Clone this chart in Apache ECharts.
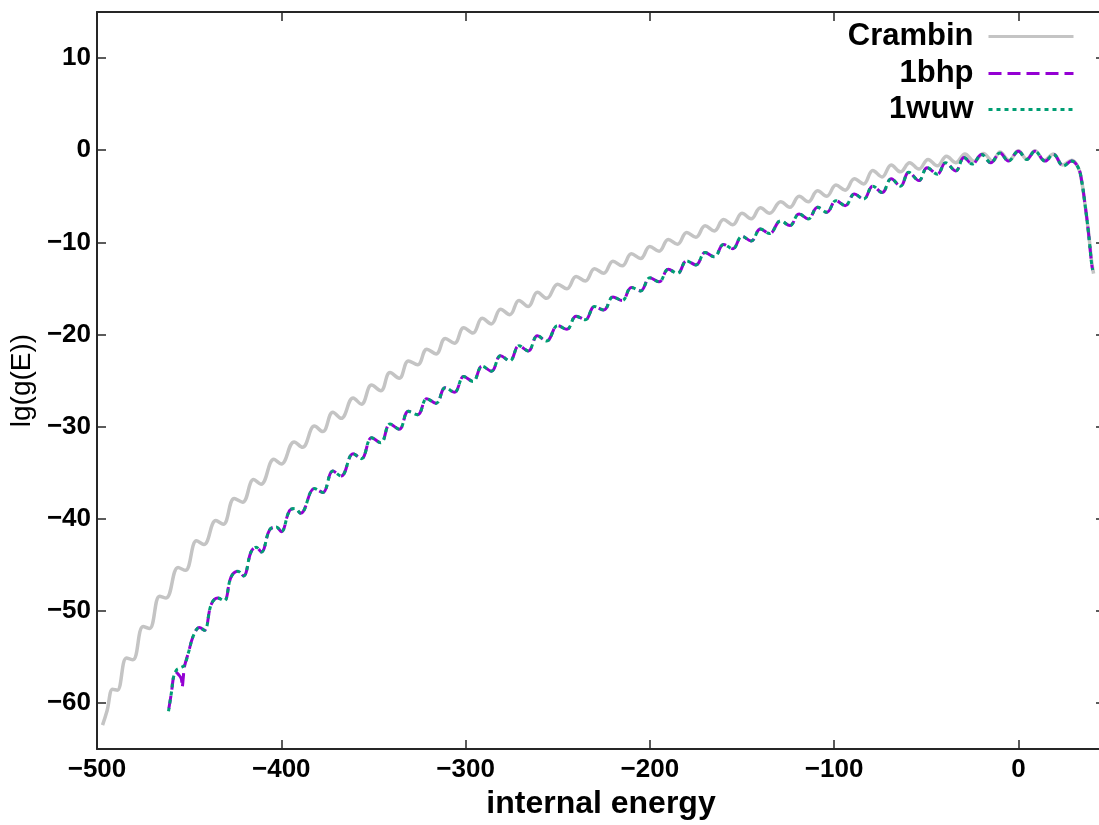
<!DOCTYPE html>
<html><head><meta charset="utf-8">
<script src="https://cdn.jsdelivr.net/npm/echarts@6/dist/echarts.min.js"></script>
<style>html,body{margin:0;padding:0;background:#fff;overflow:hidden}#c{width:1105px;height:825px}</style>
</head><body><div id="c"></div>
<script>
const xTicks = [-500, -400, -300, -200, -100, 0];
const yTicks = [-60, -50, -40, -30, -20, -10, 0, 10];
const seriesNames = ['Crambin', '1bhp', '1wuw'];

const crambin = [
[-497,-62.4],[-494.5,-60.8],[-491.5,-58.5],[-489,-58.6],[-484,-55.1],[-480.5,-55.3],[-475,-51.7],[-471.5,-51.9],
[-466,-48.4],[-462.5,-48.6],[-456,-45.3],[-452,-45.6],[-446,-42.4],[-442,-42.8],[-435.5,-40.2],[-431.5,-40.6],
[-425.5,-37.8],[-421,-38.2],[-415,-35.75],[-411,-36.25],[-404,-33.55],[-400,-34.05],[-393,-31.66],[-388.5,-32.25],
[-382,-29.94],[-377.5,-30.54],[-372,-28.43],[-367.5,-29.1],[-361,-26.89],[-356.5,-27.56],[-351,-25.49],[-346,-26.11],
[-341,-24.13],[-336,-24.75],[-331,-22.87],[-326,-23.29],[-321,-21.59],[-316,-22.11],[-311,-20.43],[-306,-20.95],
[-301,-19.27],[-296,-19.85],[-291,-18.25],[-286,-18.85],[-281,-17.25],[-276,-17.85],[-271,-16.3],[-266,-16.96],
[-261,-15.42],[-256,-16.08],[-250,-14.55],[-245,-15.03],[-240,-13.71],[-235,-14.19],[-230,-12.87],[-225,-13.35],
[-220,-12.05],[-215,-12.55],[-210,-11.25],[-205,-11.75],[-200,-10.45],[-195,-10.97],[-190,-9.69],[-185,-10.21],
[-180,-8.93],[-175,-9.45],[-170,-8.21],[-165,-8.77],[-160,-7.53],[-155,-8.09],[-150,-6.85],[-145,-7.45],
[-140,-6.25],[-135,-6.85],[-129,-5.59],[-124,-6.19],[-119,-4.99],[-114,-5.59],[-109,-4.39],[-104,-4.99],
[-99,-3.78],[-94,-4.34],[-89,-3.1],[-84,-3.66],[-79,-2.2],[-74,-2.9],[-69,-1.6],[-64,-2.35],
[-59,-1.35],[-54,-2.05],[-49,-1.0],[-44,-1.7],[-39,-0.65],[-34,-1.35],[-29,-0.4],[-24,-1.2],
[-19,-0.35],[-14,-1.2],[-10,-0.2],[-5,-1.1],[0,-0.05],[4.5,-0.95],[9,-0.05],[14,-1.1],
[19,-0.4],[24,-1.6],[29,-1.1],[32.5,-1.9],[34.3,-3.3],[36.1,-5.8],[38,-8.8],[39.7,-12.0],[40.8,-13.4]
];

const bhp1 = [
[-461,-60.6],[-459.5,-58.7],[-458.5,-57.2],[-457.5,-56.6],[-455.8,-56.9],[-454.2,-57.4],[-453.8,-58.3],[-453.2,-57.3],
[-452.6,-56.1],[-450.5,-54.6],[-447.5,-52.6],[-444.4,-51.8],[-441.7,-52.1],[-438,-49.3],[-434.5,-48.6],[-431,-48.9],
[-427.2,-46.3],[-423.5,-45.7],[-420.5,-46.2],[-416.4,-43.6],[-413.6,-43.1],[-410.8,-43.6],[-406.3,-41.2],[-402.7,-40.9],
[-400,-41.4],[-395.5,-39.1],[-392.5,-38.9],[-389.5,-39.4],[-382,-36.72],[-377.5,-37.14],[-372,-34.83],[-367.5,-35.36],
[-361,-32.94],[-356.5,-33.48],[-351,-31.22],[-346,-31.76],[-341,-29.72],[-336,-30.28],[-331,-28.34],[-326,-28.7],
[-321,-26.97],[-316,-27.47],[-311,-25.77],[-306,-26.27],[-301,-24.57],[-296,-25.1],[-291,-23.44],[-286,-23.98],
[-281,-22.32],[-276,-22.86],[-271,-21.22],[-266,-21.78],[-261,-20.14],[-256,-20.7],[-250,-19.05],[-245,-19.43],
[-240,-18.01],[-235,-18.39],[-230,-16.97],[-225,-17.35],[-220,-15.93],[-215,-16.31],[-210,-14.89],[-205,-15.27],
[-200,-13.85],[-195,-14.29],[-190,-12.93],[-185,-13.37],[-180,-12.01],[-175,-12.45],[-170,-11.11],[-165,-11.57],
[-160,-10.23],[-155,-10.69],[-150,-9.35],[-145,-9.85],[-140,-8.55],[-135,-9.05],[-129,-7.67],[-124,-8.18],
[-119,-6.92],[-114,-7.46],[-109,-6.2],[-104,-6.74],[-99,-5.48],[-94,-6.02],[-89,-4.76],[-84,-5.3],
[-79,-3.9],[-74,-4.6],[-69,-3.1],[-64,-3.9],[-59.5,-2.4],[-54,-3.3],[-49.5,-1.9],[-44,-2.6],
[-39.5,-1.36],[-34,-2.25],[-29.5,-0.8],[-25,-1.5],[-20,-0.46],[-15,-1.36],[-10,-0.29],[-5.4,-1.18],
[0,-0.1],[4.5,-1.0],[9,-0.1],[14.5,-1.18],[19,-0.46],[24.4,-1.7],[28.9,-1.18],[32.5,-1.9],
[34.3,-3.3],[36.1,-5.8],[37.9,-8.7],[39.7,-12.25],[40.3,-13]
];

const wuw1 = [
[-461.2,-60.9],[-459.5,-58.7],[-458.6,-57.3],[-456.8,-56.4],[-455,-56.2],[-452.6,-55.9],[-450.5,-54.6],[-447.5,-52.6],
[-444.4,-51.8],[-441.7,-52.1],[-438,-49.3],[-434.5,-48.6],[-431,-48.9],[-427.2,-46.3],[-423.5,-45.7],[-420.5,-46.2],
[-416.4,-43.6],[-413.6,-43.1],[-410.8,-43.6],[-406.3,-41.2],[-402.7,-40.9],[-400,-41.4],[-395.5,-39.1],[-392.5,-38.9],
[-389.5,-39.4],[-382,-36.72],[-377.5,-37.14],[-372,-34.83],[-367.5,-35.36],[-361,-32.94],[-356.5,-33.48],[-351,-31.22],
[-346,-31.76],[-341,-29.72],[-336,-30.28],[-331,-28.34],[-326,-28.7],[-321,-26.97],[-316,-27.47],[-311,-25.77],
[-306,-26.27],[-301,-24.57],[-296,-25.1],[-291,-23.44],[-286,-23.98],[-281,-22.32],[-276,-22.86],[-271,-21.22],
[-266,-21.78],[-261,-20.14],[-256,-20.7],[-250,-19.05],[-245,-19.43],[-240,-18.01],[-235,-18.39],[-230,-16.97],
[-225,-17.35],[-220,-15.93],[-215,-16.31],[-210,-14.89],[-205,-15.27],[-200,-13.85],[-195,-14.29],[-190,-12.93],
[-185,-13.37],[-180,-12.01],[-175,-12.45],[-170,-11.11],[-165,-11.57],[-160,-10.23],[-155,-10.69],[-150,-9.35],
[-145,-9.85],[-140,-8.55],[-135,-9.05],[-129,-7.67],[-124,-8.18],[-119,-6.92],[-114,-7.46],[-109,-6.2],
[-104,-6.74],[-99,-5.48],[-94,-6.02],[-89,-4.76],[-84,-5.3],[-79,-3.9],[-74,-4.6],[-69,-3.1],
[-64,-3.9],[-59.5,-2.4],[-54,-3.3],[-49.5,-1.9],[-44,-2.6],[-39.5,-1.36],[-34,-2.25],[-29.5,-0.8],
[-25,-1.5],[-20,-0.46],[-15,-1.36],[-10,-0.29],[-5.4,-1.18],[0,-0.1],[4.5,-1.0],[9,-0.1],
[14.5,-1.18],[19,-0.46],[24.4,-1.7],[28.9,-1.18],[32.5,-1.9],[34.3,-3.3],[36.1,-5.8],[37.9,-8.7],
[39.7,-12.25],[40.3,-13]
];

const seriesData = [crambin, bhp1, wuw1];
const seriesColors = ['#c4c4c4', '#9400d3', '#009e73'];
const seriesDash = ['solid', [13, 6], [4, 4]];
const seriesWidth = [3.5, 3, 3];

const chart = echarts.init(document.getElementById('c'), null, { renderer: 'canvas' });
const fmt = v => String(v).replace('-', '\u2212');
const lineCol = '#262626';
const tickFont = { fontFamily: 'Liberation Sans', fontWeight: 'bold', fontSize: 26, color: '#000' };

function mkAxis(pos, isX, main) {
  const a = {
    type: 'value', position: pos,
    min: isX ? -500 : -65, max: isX ? 47 : 15,
    axisLine: { show: true, onZero: false, lineStyle: { color: lineCol, width: 2 } },
    axisTick: { show: true, inside: true, length: 9, customValues: isX ? xTicks : yTicks, lineStyle: { color: lineCol, width: 1.5 } },
    axisLabel: { show: main, customValues: isX ? xTicks : yTicks, formatter: fmt, margin: isX ? 8 : 6, ...tickFont },
    splitLine: { show: false }
  };
  if (main && isX) {
    Object.assign(a, { name: 'internal energy', nameLocation: 'middle', nameGap: 30,
      nameTextStyle: { fontFamily: 'Liberation Sans', fontWeight: 'bold', fontSize: 32, color: '#000' } });
  }
  if (main && !isX) {
    Object.assign(a, { name: 'lg(g(E))', nameLocation: 'middle', nameGap: 60, nameRotate: 90,
      nameTextStyle: { fontFamily: 'Liberation Sans', fontSize: 28, color: '#000' } });
  }
  return a;
}

const legendTops = [21, 58, 94];
const option = {
  animation: false,
  backgroundColor: '#fff',
  grid: { left: 97, top: 12, right: 0, bottom: 67, containLabel: false },
  xAxis: [mkAxis('bottom', true, true), mkAxis('top', true, false)],
  yAxis: [mkAxis('left', false, true), mkAxis('right', false, false)],
  legend: seriesNames.map((n, i) => ({
    data: [n], right: 30, top: legendTops[i], align: 'right', orient: 'horizontal', padding: 0,
    itemWidth: 85, itemHeight: 12, selectedMode: false,
    textStyle: { fontFamily: 'Liberation Sans', fontWeight: 'bold', fontSize: 31, color: '#000', padding: [0, 10, 0, 0] },
    itemStyle: { opacity: 0 },
    lineStyle: { width: 3 }
  })),
  series: seriesNames.map((n, i) => ({
    name: n, type: 'line', data: seriesData[i], xAxisIndex: 0, yAxisIndex: 0,
    symbol: 'none', showSymbol: false, smooth: 0.4,
    lineStyle: { color: seriesColors[i], width: seriesWidth[i], type: seriesDash[i] },
    itemStyle: { color: seriesColors[i] },
    z: 2 + i
  }))
};
chart.setOption(option);
</script></body></html>
